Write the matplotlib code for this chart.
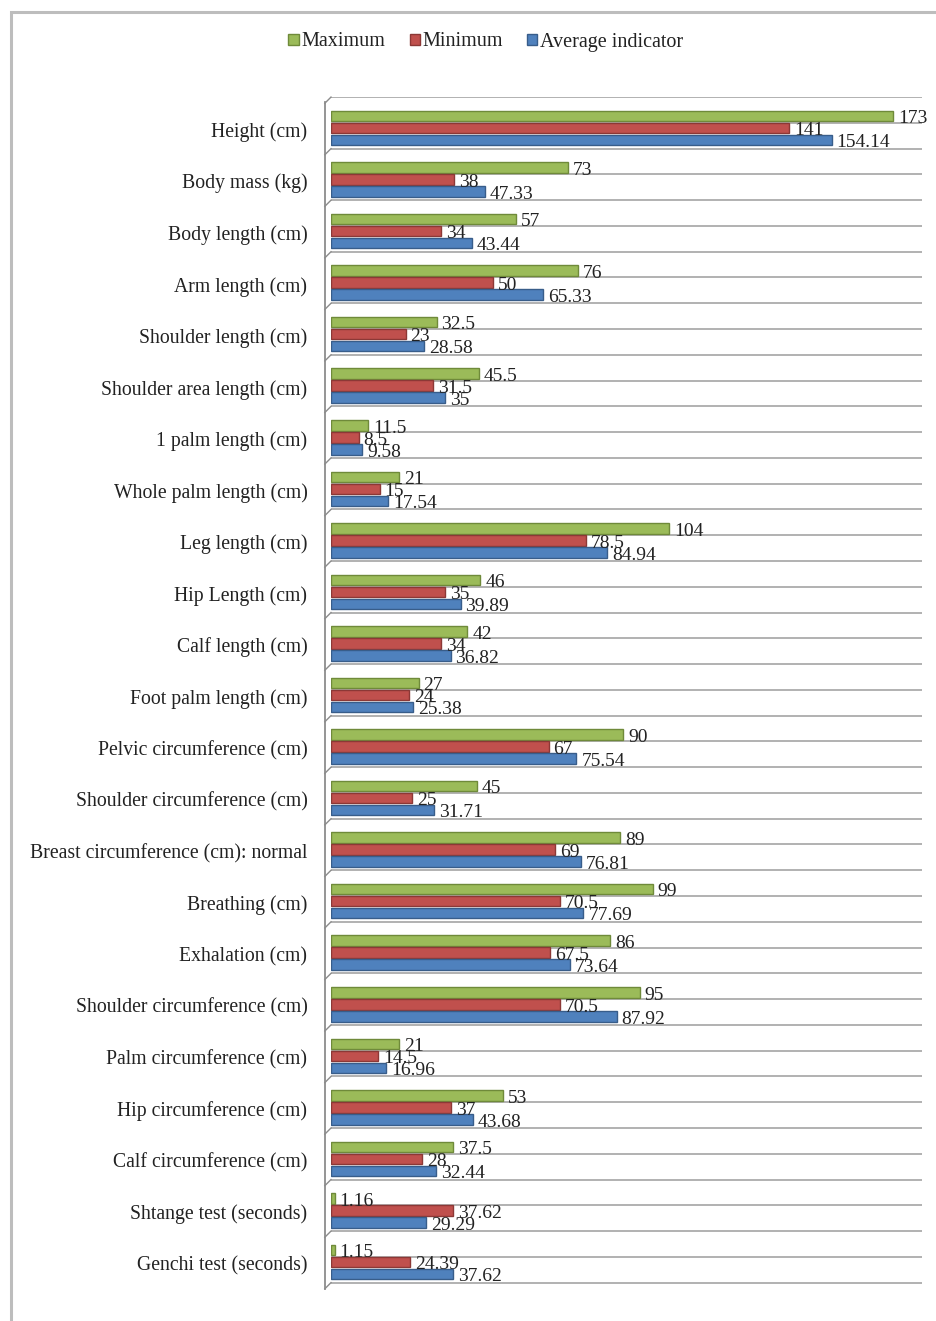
import numpy as np
import matplotlib.pyplot as plt
from matplotlib.patches import Rectangle
from matplotlib.transforms import ScaledTranslation

plt.rcParams['font.family'] = ['Liberation Serif', 'DejaVu Serif']

categories = ["Height (cm)", "Body mass (kg)", "Body length (cm)", "Arm length (cm)",
              "Shoulder length (cm)", "Shoulder area length (cm)", "1 palm length (cm)",
              "Whole palm length (cm)", "Leg length (cm)", "Hip Length (cm)",
              "Calf length (cm)", "Foot palm length (cm)", "Pelvic circumference (cm)",
              "Shoulder circumference (cm)", "Breast circumference (cm): normal",
              "Breathing (cm)", "Exhalation (cm)", "Shoulder circumference (cm)",
              "Palm circumference (cm)", "Hip circumference (cm)", "Calf circumference (cm)",
              "Shtange test (seconds)", "Genchi test (seconds)"]
maximum = [173, 73, 57, 76, 32.5, 45.5, 11.5, 21, 104, 46, 42, 27, 90, 45, 89, 99, 86,
           95, 21, 53, 37.5, 1.16, 1.15]
minimum = [141, 38, 34, 50, 23, 31.5, 8.5, 15, 78.5, 35, 34, 24, 67, 25, 69, 70.5, 67.5,
           70.5, 14.5, 37, 28, 37.62, 24.39]
average = [154.14, 47.33, 43.44, 65.33, 28.58, 35, 9.58, 17.54, 84.94, 39.89, 36.82,
           25.38, 75.54, 31.71, 76.81, 77.69, 73.64, 87.92, 16.96, 43.68, 32.44, 29.29,
           37.62]

series = [("Maximum", maximum, "#9BBB59", "#6F8A3A", -1),
          ("Minimum", minimum, "#C0504D", "#8C3836", 0),
          ("Average indicator", average, "#4F81BD", "#385D8A", 1)]

W, H = 937, 1321
fig = plt.figure(figsize=(W / 100, H / 100), dpi=100)

# outer chart frame
fig.patches.append(Rectangle((11 / W, -0.02), 1.1, 1 - 12 / H + 0.02,
                             transform=fig.transFigure, fill=False,
                             edgecolor="#BDBDBD", linewidth=2.2))

ax_left, ax_right, ax_top, ax_bot = 331, 922, 97, 1292
ax = fig.add_axes([ax_left / W, 1 - ax_bot / H, (ax_right - ax_left) / W,
                   (ax_bot - ax_top) / H])
n = len(categories)
ypos = np.arange(n)
spacing = (1262 - 128) / 22
ax.set_ylim(22 + (ax_bot - 1262) / spacing, -(128 - ax_top) / spacing)
ax.set_xlim(0, (ax_right - ax_left) / 3.249)

# horizontal gridlines every half category
grid_y = np.arange(-0.6, n, 0.5)
for g in grid_y:
    ax.axhline(g, color="#ABABAB", lw=1.3, zorder=1)

bar_h = 0.205
step = 0.233
for name, vals, col, edge, k in series:
    y = ypos + k * step
    ax.barh(y, vals, height=bar_h, color=col, edgecolor=edge, linewidth=1.0,
            label=name, zorder=3)
    for yy, v in zip(y, vals):
        ax.annotate(f"{v:g}", (v, yy), xytext=(3.5, -2), textcoords="offset points",
                    ha="left", va="center", fontsize=14, color="#222222", zorder=4)

# side wall of the value axis
wall_dx = 1.9
ax.plot([-wall_dx, -wall_dx], [ax.get_ylim()[1] + 0.1, ax.get_ylim()[0] - 0.05],
        color="#8C8C8C", lw=1.3, clip_on=False)
for g in grid_y[::2]:
    ax.plot([-wall_dx, 0], [g + 0.12, g], color="#8C8C8C", lw=1.0, clip_on=False)

ax.set_yticks(ypos)
ax.set_yticklabels(categories, fontsize=14.2, color="#222222")
ax.tick_params(axis="y", length=0, pad=17)
shift = ScaledTranslation(0, -4 / 100, fig.dpi_scale_trans)
for lbl in ax.get_yticklabels():
    lbl.set_va("center")
    lbl.set_transform(lbl.get_transform() + shift)
ax.set_xticks([])
for s in ax.spines.values():
    s.set_visible(False)

fig.legend(loc="center", bbox_to_anchor=(486 / W, 1 - 42 / H), ncol=3, frameon=False,
           fontsize=14.5, handlelength=0.5, handleheight=0.5, handletextpad=0.15,
           columnspacing=1.2, labelcolor="#222222")

fig.savefig("out.png", dpi=100)
